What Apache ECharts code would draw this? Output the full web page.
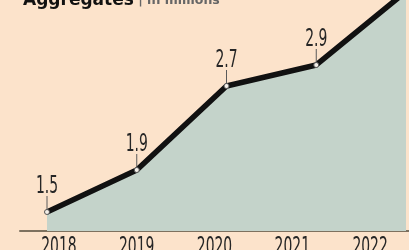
<!DOCTYPE html>
<html>
<head>
<meta charset="utf-8">
<script src="https://cdn.jsdelivr.net/npm/echarts@6/dist/echarts.min.js"></script>
<style>
html,body{margin:0;padding:0;background:#fce3cb;}
#c{width:409px;height:250px;}
</style>
</head>
<body>
<div id="c"></div>
<script>
const years = ['2018', '2019', '2020', '2021', '2022'];
const values = [1.5, 1.9, 2.7, 2.9, 3.6];
const labelText = ['1.5', '1.9', '2.7', '2.9'];
const titleText = 'Aggregates';
const unitText = 'in millions';

const chart = echarts.init(document.getElementById('c'));
const condText = (x, y, text, va) => ({
  type: 'text', x: x, y: y, scaleX: 0.58,
  style: {text: text, fontFamily: 'DejaVu Sans', fontSize: 24, fill: '#262626', align: 'center', verticalAlign: va}
});
chart.setOption({
  backgroundColor: '#fce3cb',
  animation: false,
  title: {
    left: 18, top: -13,
    text: '{a|' + titleText + '}{b| | ' + unitText + '}',
    textStyle: {
      rich: {
        a: {fontFamily: 'DejaVu Sans', fontWeight: 'bold', fontSize: 17, color: '#111'},
        b: {fontFamily: 'DejaVu Sans', fontSize: 12.5, color: '#666'}
      }
    }
  },
  grid: [
    {left: 47, right: 3, top: 0, bottom: 19},
    {left: 20, right: -22, top: 0, bottom: 19}
  ],
  xAxis: [
    {type: 'category', gridIndex: 0, data: years, boundaryGap: false, show: false},
    {type: 'category', gridIndex: 1, data: years, boundaryGap: true,
     axisLine: {show: true, lineStyle: {color: '#7d715f', width: 2}},
     axisTick: {show: false}, axisLabel: {show: false}}
  ],
  yAxis: [
    {type: 'value', gridIndex: 0, min: 1.319, max: 3.519, show: false, splitLine: {show: false}},
    {type: 'value', gridIndex: 1, min: 0, max: 1, show: false, splitLine: {show: false}}
  ],
  series: [
    {
      type: 'line', xAxisIndex: 0, yAxisIndex: 0, data: values,
      lineStyle: {color: '#111', width: 5.5},
      areaStyle: {color: '#c4d3ca', opacity: 1, origin: 'start'},
      symbol: 'circle', symbolSize: 5,
      itemStyle: {color: '#f4f0ea', borderColor: '#555', borderWidth: 1},
      z: 3
    },
    {
      type: 'custom', xAxisIndex: 0, yAxisIndex: 0, z: 4, silent: true,
      data: labelText.map((t, i) => [i, values[i]]),
      renderItem: (params, api) => {
        const p = api.coord([api.value(0), api.value(1)]);
        return {type: 'group', children: [
          {type: 'line', shape: {x1: p[0], y1: p[1] - 3, x2: p[0], y2: p[1] - 16},
           style: {stroke: '#5a5a5a', lineWidth: 1}},
          condText(p[0], p[1] - 13, labelText[params.dataIndex], 'bottom')
        ]};
      }
    },
    {
      type: 'custom', xAxisIndex: 1, yAxisIndex: 1, z: 4, silent: true,
      data: years.map((y, i) => [i, 0]),
      renderItem: (params, api) => {
        const p = api.coord([api.value(0), 0]);
        return condText(p[0], p[1] + 5, years[params.dataIndex], 'top');
      }
    }
  ]
});
</script>
</body>
</html>
